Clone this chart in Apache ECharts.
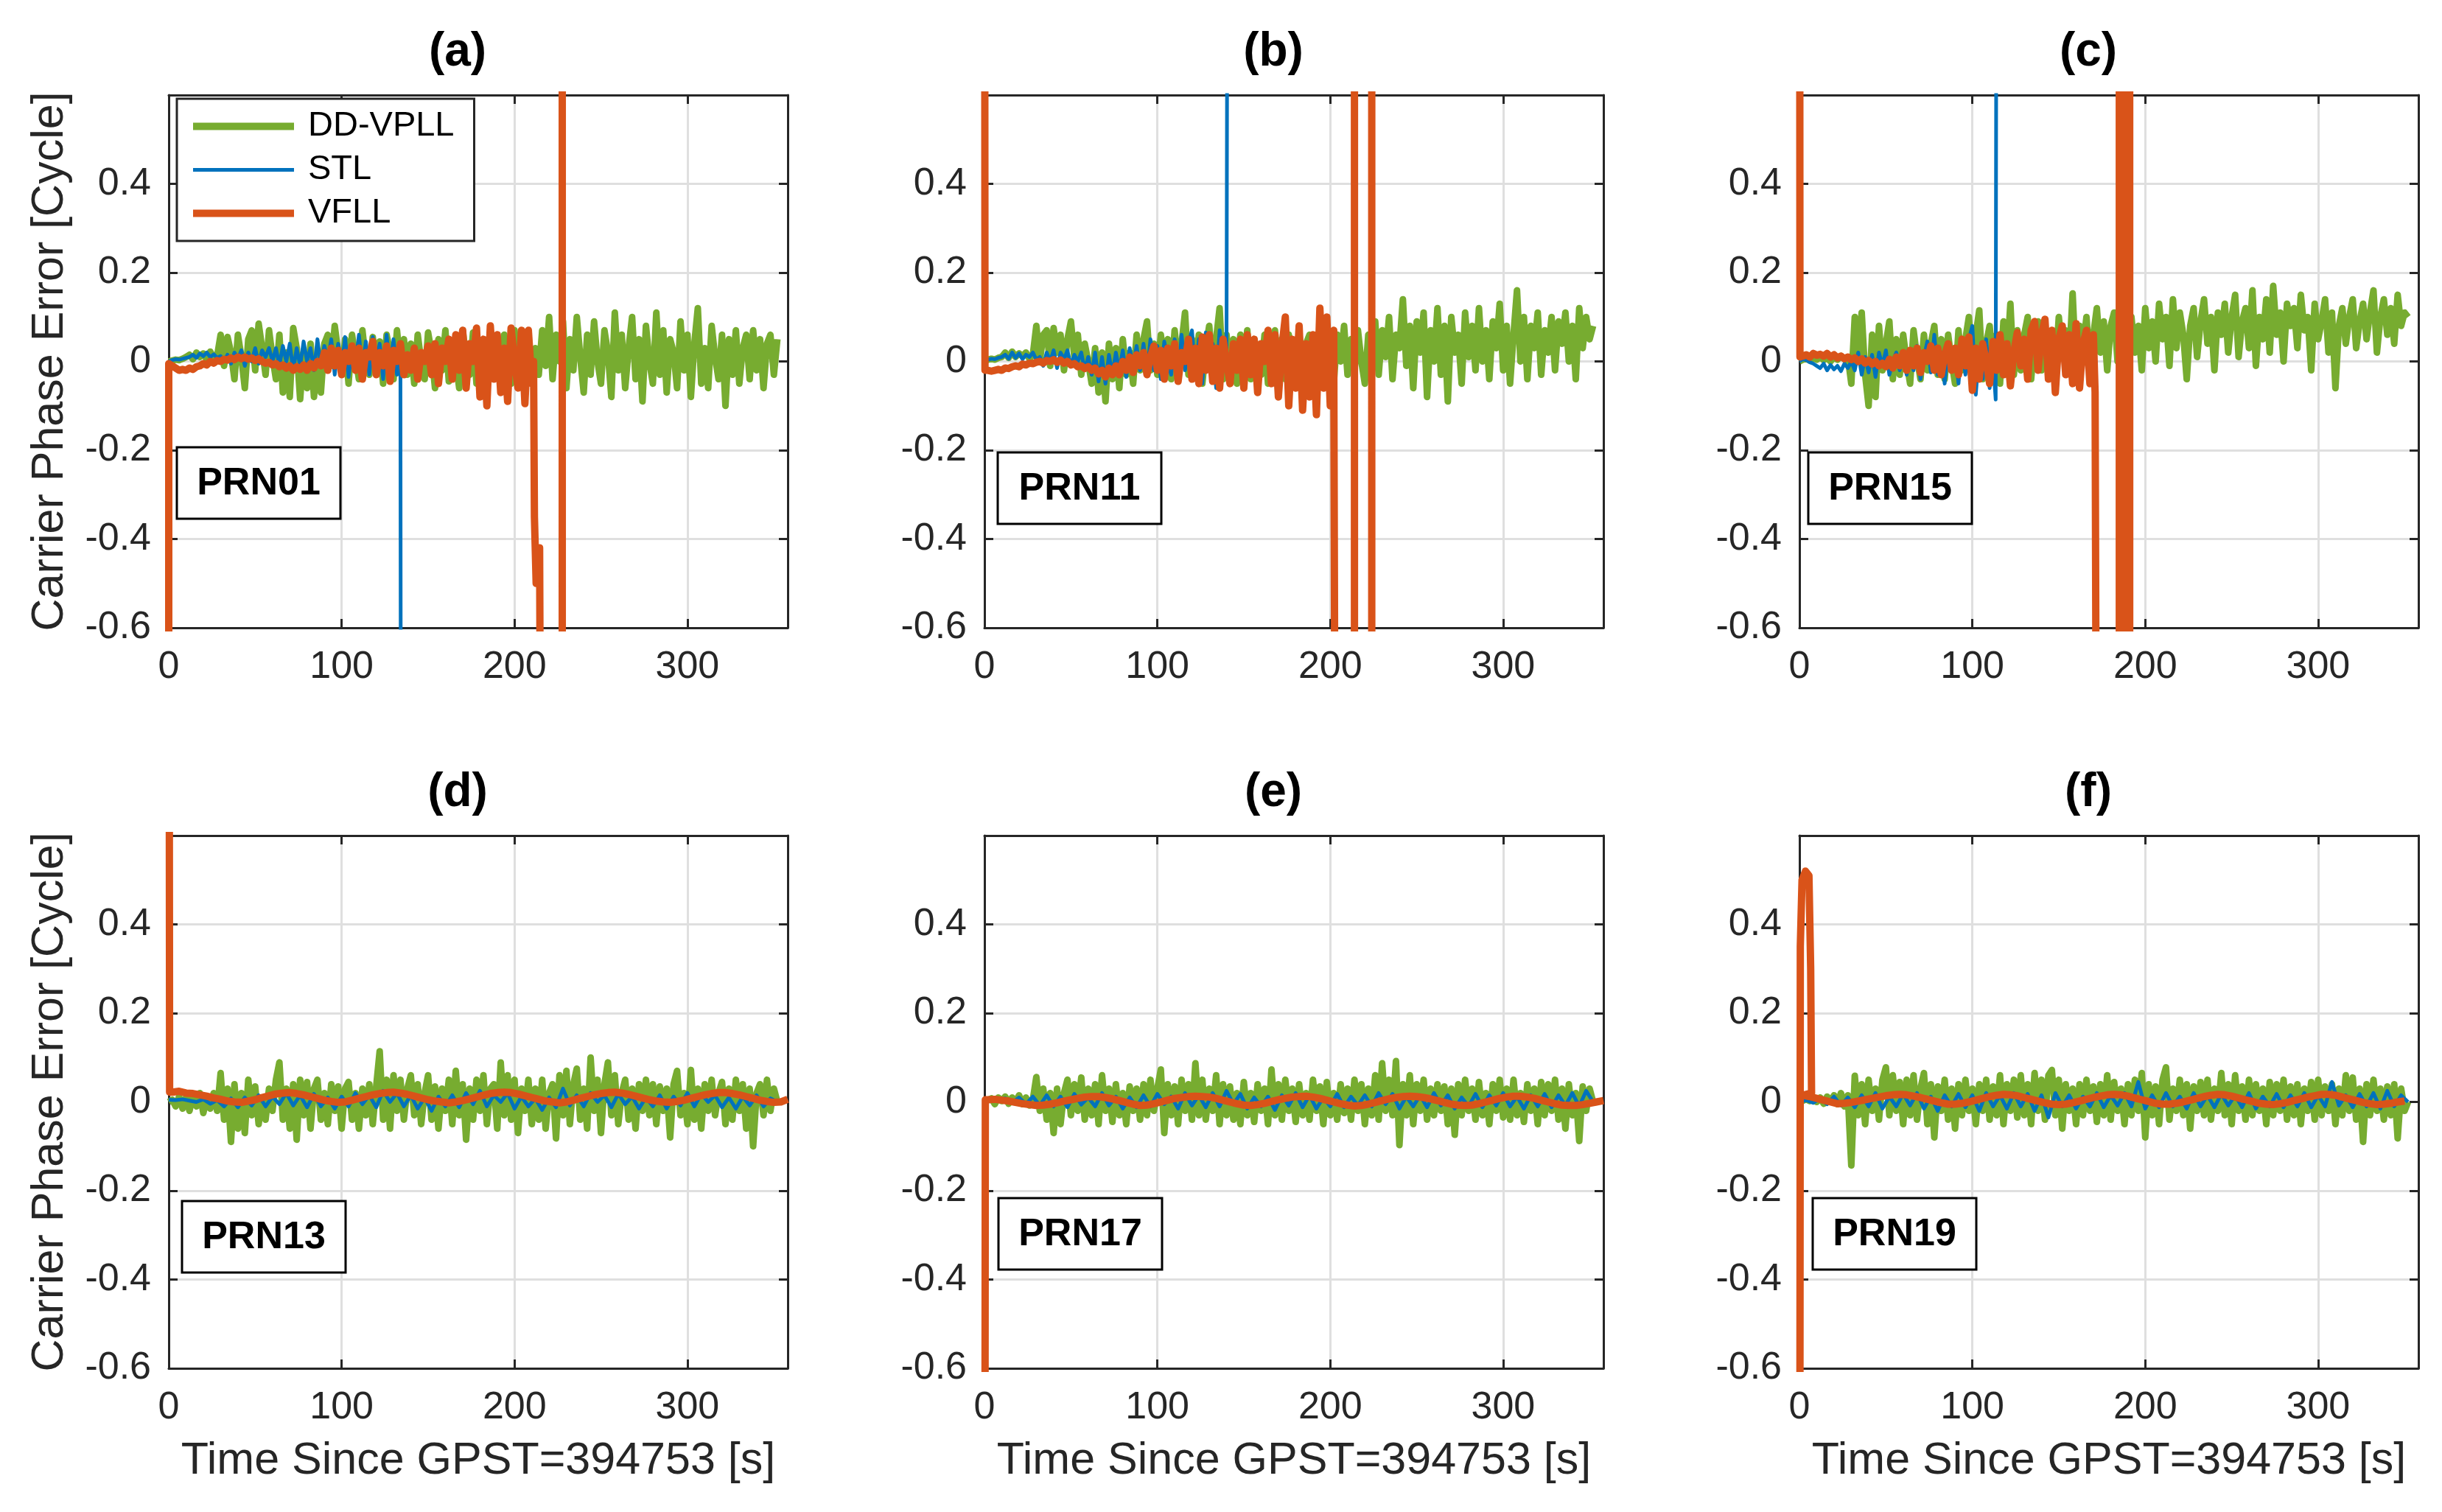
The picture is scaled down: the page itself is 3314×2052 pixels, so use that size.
<!DOCTYPE html>
<html>
<head>
<meta charset="utf-8">
<script src="https://cdn.jsdelivr.net/npm/echarts/dist/echarts.min.js"></script>
<style>
  html, body { margin: 0; padding: 0; background: #fff; }
  #chart { width: 3314px; height: 2052px; }
</style>
</head>
<body>
<div id="chart"></div>
<script>
// ---- data ----
// top row: samples every 2 s from t = 0 (green, blue) or t = 2 (orange)
const ddA = [0, 0.002, 0.004, 0.003, 0.006, 0.01,
  0.015, 0.005, 0.02, 0.01, 0.018, 0.004, 0.022, 0.008, 0.012,
  0.06, -0.01, 0.055, 0.02, -0.04, 0.06, 0.01, -0.06, 0.05, 0.07, -0.02, 0.085, 0.03, -0.03, 0.07, 0.01,
  -0.04, 0.06, -0.07, 0.02, -0.08, 0.075, 0.03, -0.085, 0.02, -0.06, 0.04, -0.08, 0.01, -0.07, 0.04,
  0.06, -0.01, 0.08, 0.02, -0.03, 0.05, -0.05, 0.06, 0.01, -0.04, 0.07, 0.0, -0.03, 0.055, -0.02, 0.045, -0.05, 0.06, 0.02, -0.04, 0.07, -0.01, 0.05, -0.03, 0.04,
  -0.05, 0.06, 0.0, -0.04, 0.065, 0.02, -0.06, 0.05, -0.02, 0.07, -0.045, 0.04, 0.0, -0.06, 0.07, 0.01, -0.03, 0.065, -0.05, 0.04, 0.02, -0.06, 0.07, -0.02, 0.05, -0.04, 0.06, 0.0, -0.05, 0.07, -0.03, 0.05, -0.02, 0.06, -0.04,
  0.03, -0.03, 0.07, -0.01, 0.1, -0.04, 0.06, 0.0, 0.09, -0.06, 0.05, -0.02, 0.1, 0.01, -0.07, 0.06, -0.03, 0.09, 0.0, -0.05, 0.07, 0.02, -0.08, 0.11, -0.02, 0.06, -0.06, 0.03, 0.1, -0.04, 0.05, -0.09, 0.08, 0.0, -0.05, 0.11, -0.03, 0.07, -0.07, 0.05, 0.02, -0.06, 0.09, -0.02, 0.06, -0.08, 0.04, 0.12, -0.05, 0.03, -0.06, 0.08, 0.01, -0.04, 0.06, -0.1, 0.05, -0.03, 0.07, -0.05, 0.03, 0.06, -0.04, 0.07, -0.02, 0.05, -0.06, 0.04, 0.06, -0.03, 0.05];
const stlA = [0, 0.003, 0.005, 0.004, 0.006, 0.008,
  0.01, 0.015, 0.008, 0.018, 0.012, 0.02, 0.01, 0.016, 0.008, 0.012,
  0.0, 0.015, -0.005, 0.02, 0.005, 0.025, -0.01, 0.02, 0.0, 0.03, -0.005, 0.025, 0.01, 0.03, 0.0,
  0.03, -0.01, 0.035, 0.0, 0.04, -0.02, 0.03, -0.01, 0.045, 0.0, 0.03, -0.02, 0.05, -0.01, 0.035,
  0.0, 0.05, -0.03, 0.04, -0.02, 0.055, -0.035, 0.03, -0.01, 0.06, -0.02, 0.045, -0.03, 0.055, 0.0, 0.04, -0.04, 0.06, -0.02, 0.05, -0.03, 0.0];
const stlATail = [[134.5, -2]];
const vfllAHead = [[0, -2], [0, -0.005]];
const vfllA = [-0.01, -0.015, -0.02, -0.018, -0.02, -0.015, -0.018, -0.012, -0.01, -0.005, -0.008, 0.0, -0.004, 0.002,
  0.0, 0.005, 0.003, 0.008, 0.004, 0.01, 0.006, 0.01, 0.005, 0.008, 0.002, 0.006, 0.0, -0.004, -0.002, -0.008,
  -0.005, -0.012, -0.008, -0.015, -0.01, -0.02, -0.012, -0.018, -0.008, -0.02, -0.005, -0.015, 0.0, -0.01, 0.02,
  -0.02, 0.03, -0.01, 0.025, -0.03, 0.02, 0.0, 0.035, -0.02, 0.03, -0.04, 0.02, 0.01, 0.045, -0.03, 0.02, -0.01, 0.035, -0.045, 0.025, 0.0, 0.04, -0.03, 0.015, -0.02, 0.03, -0.04, 0.02, 0.0, 0.035,
  -0.03, 0.04, -0.05, 0.03, 0.0, 0.05, -0.04, 0.06, -0.02, 0.07, -0.06, 0.04, 0.0, 0.075, -0.08, 0.05, -0.1, 0.08, -0.04, 0.06, -0.07, 0.03, -0.09, 0.075, 0.0, -0.06, 0.07, -0.095, 0.07, -0.05];
const vfllATail = [[211, 0.0], [211.5, -0.35], [212.5, -0.5], [214.5, -0.42], [216, -2], [227.6, -2], [227.6, 2]];

const ddB = [0, 0.004, 0.006, 0.004, 0.008, 0.01,
  0.02, 0.008, 0.022, 0.01, 0.018, 0.012, 0.02, 0.006, 0.015,
  0.08, 0.0, 0.06, 0.07, -0.01, 0.075, 0.02, 0.06, -0.02, 0.05, 0.09, 0.01, 0.06, -0.03, 0.04, 0.0,
  -0.05, 0.03, -0.07, 0.02, -0.09, 0.04, -0.04, 0.03, -0.06, 0.05, -0.03, 0.02, -0.05, 0.06, -0.02,
  0.05, 0.09, -0.02, 0.04, -0.03, 0.06, 0.0, 0.05, -0.04, 0.07, -0.01, 0.04, 0.11, -0.03, 0.05, -0.02, 0.06, -0.05, 0.03, 0.08, -0.02, 0.05, 0.12, -0.04, 0.06,
  -0.02, 0.05, -0.05, 0.06, 0.0, 0.07, -0.04, 0.05, 0.02, -0.03, 0.06, -0.05, 0.04, 0.07, -0.02, 0.05, -0.04, 0.06, 0.01, -0.03, 0.07, -0.05, 0.04, 0.06, -0.02, 0.05, 0.0, -0.04, 0.07, 0.02, -0.05, 0.06, 0.0, 0.08, -0.03,
  0.05, -0.02, 0.07, 0.0, -0.05, 0.06, 0.02, 0.09, -0.03, 0.07, 0.01, 0.1, -0.04, 0.06, 0.03, 0.14, -0.01, 0.08, -0.06, 0.09, 0.02, 0.11, -0.08, 0.07, 0.0, 0.12, -0.03, 0.08, -0.09, 0.1, 0.02, 0.06, -0.05, 0.11, 0.01, 0.08, -0.02, 0.12, 0.0, 0.07, -0.04, 0.09, 0.03, 0.13, -0.02, 0.08, -0.05, 0.06, 0.16, 0.0, 0.1, -0.04, 0.08, 0.03, 0.11, -0.03, 0.07, 0.02, 0.1, -0.02, 0.09, 0.04, 0.11, 0.0, 0.08, -0.04, 0.12, 0.03, 0.1, 0.05, 0.08];
const stlB = [0, 0.004, 0.006, 0.005, 0.008, 0.01,
  0.015, 0.006, 0.02, 0.008, 0.018, 0.005, 0.015, 0.01, 0.02, 0.004,
  0.01, -0.01, 0.02, 0.0, 0.025, -0.015, 0.02, 0.005, 0.025, -0.01, 0.015, 0.0, 0.02, -0.02, 0.01,
  -0.03, 0.02, -0.045, 0.01, -0.05, 0.015, -0.03, 0.02, -0.02, 0.025, -0.035, 0.03, -0.01, 0.035, -0.02,
  0.04, -0.03, 0.05, -0.02, 0.035, -0.04, 0.045, 0.0, -0.03, 0.05, -0.045, 0.06, -0.02, 0.04, 0.07, -0.03, 0.05, -0.05, 0.065, -0.02, 0.04, -0.06, 0.07, 0.0, 0.03];
const stlBTail = [[141, 2]];
const vfllBHead = [[0, 2], [0.3, -0.02]];
const vfllB = [-0.02, -0.022, -0.02, -0.018, -0.02, -0.015, -0.016, -0.012, -0.01, -0.012, -0.006, -0.008, -0.004, -0.005,
  -0.002, 0.0, -0.004, 0.002, 0.0, 0.004, -0.002, 0.003, -0.004, 0.0, -0.008, -0.005, -0.012, -0.01, -0.016, -0.012,
  -0.02, -0.015, -0.028, -0.02, -0.035, -0.015, -0.03, -0.01, -0.03, 0.0, -0.02, 0.01, -0.025, 0.015, -0.01,
  0.02, -0.03, 0.01, 0.035, -0.02, 0.025, -0.04, 0.03, -0.01, 0.04, -0.045, 0.02, 0.0, 0.05, -0.04, 0.03, -0.05, 0.055, -0.02, 0.06, -0.045, 0.03, -0.06, 0.05, 0.0, -0.05, 0.04, -0.02, 0.05, -0.06,
  0.06, -0.03, 0.05, -0.07, 0.04, 0.0, 0.07, -0.05, 0.06, -0.08, 0.03, 0.1, -0.1, 0.05, -0.06, 0.08, -0.11, 0.04, -0.08, 0.06, -0.12, 0.12, -0.06, 0.1, -0.1, 0.07];
const vfllBTail = [[203.5, -2], [214, -2], [214, 2], [214, -2], [224, -2], [224, 2]];

const ddC = [0, 0.004, 0.006, 0.002, 0.008, 0.004, 0.01, 0.003, 0.008, 0.0, 0.01, 0.004, 0.012, 0.005, 0.01,
  -0.05, 0.1, 0.02, 0.11, -0.03, -0.1, 0.06, -0.08, 0.08, -0.02, 0.04, 0.09, -0.04, 0.05, -0.03, 0.06,
  0.0, -0.05, 0.07, 0.01, -0.04, 0.06, -0.02, 0.04, 0.08, -0.03, 0.05, -0.04, 0.06, 0.0, -0.05,
  0.07, -0.02, 0.05, 0.1, -0.03, 0.06, 0.115, -0.04, 0.04, 0.08, -0.01, 0.06, -0.05, 0.09, 0.0, 0.13, -0.03, 0.07, -0.02, 0.06, 0.1, -0.04, 0.05, 0.09, -0.02,
  0.08, 0.0, 0.06, -0.03, 0.1, 0.02, 0.07, 0.0, 0.153, -0.02, 0.08, 0.03, 0.1, -0.01, 0.06, 0.12, 0.02, 0.09, -0.02, 0.08, 0.11, 0.0, 0.07, 0.12, -0.05,
  0.1, 0.02, 0.08, -0.02, 0.12, 0.03, 0.09, 0.0, 0.13, 0.05, 0.1, -0.01, 0.14, 0.03, 0.11, 0.06, -0.04, 0.08, 0.12, 0.01, 0.09, 0.14, 0.04, 0.1, -0.02, 0.11, 0.06, 0.13, 0.02, 0.1, 0.15, 0.01, 0.09, 0.12, 0.03, 0.16, -0.01, 0.1, 0.05, 0.14, 0.02, 0.17, 0.06, 0.11, 0.0, 0.13, 0.08, 0.12, 0.03, 0.15, 0.07, 0.1, -0.02, 0.13, 0.05, 0.09, 0.14, 0.02, 0.11, -0.06, 0.08, 0.12, 0.04, 0.1, 0.14, 0.03, 0.09, 0.13, 0.05, 0.11, 0.16, 0.02, 0.1, 0.14, 0.06, 0.12, 0.04, 0.15, 0.08, 0.11, 0.1];
const stlC = [0, 0.005, 0.003, -0.002, -0.005, -0.01,
  -0.015, -0.005, -0.02, -0.008, -0.018, -0.01, -0.022, -0.005, -0.015, 0.0,
  -0.02, 0.02, -0.03, 0.01, -0.025, 0.015, -0.035, 0.02, -0.01, 0.025, -0.03, 0.0, 0.02, -0.02, 0.015,
  -0.03, 0.025, -0.02, 0.035, -0.04, 0.01, 0.045, -0.025, 0.06, -0.03, 0.02, -0.05, 0.04, -0.02, 0.03,
  -0.05, 0.04, -0.03, 0.05, 0.08, -0.075, 0.03, -0.04, 0.05, -0.06, 0.0];
const stlCTail = [[113.5, -0.086], [114.3, 2]];
const vfllCHead = [[0, 2], [0.3, 0.01]];
const vfllC = [0.012, 0.015, 0.01, 0.018, 0.014, 0.016, 0.012, 0.018, 0.01, 0.015, 0.008, 0.012, 0.006, 0.01,
  0.004, 0.008, 0.0, 0.006, -0.004, 0.002, -0.006, 0.0, -0.01, -0.004, -0.012, 0.005, -0.015, 0.01, -0.01, 0.02,
  -0.02, 0.025, -0.01, 0.03, -0.025, 0.02, 0.0, 0.035, -0.02, 0.03, -0.03, 0.015, 0.04, -0.02, 0.03,
  -0.03, 0.05, -0.01, 0.055, -0.065, 0.03, -0.04, 0.04, 0.0, -0.05, 0.045, -0.02, 0.06, -0.03, 0.04, -0.055, 0.02, 0.065, -0.01, 0.05,
  -0.04, 0.07, 0.09, -0.02, 0.06, 0.095, -0.04, 0.07, -0.07, 0.05, 0.08, -0.03, 0.06, -0.05, 0.085, -0.06, 0.04, 0.07, -0.05, 0.06];
const vfllCTail = [[171, -0.07], [172.5, -2], [185, -2], [185, 2], [186.5, 2], [186.5, -2], [188, -2], [188, 2], [189.5, 2], [189.5, -2], [191, -2], [191, 2]];

// bottom row: green every 2 s, blue every 4 s from 0, orange every 4 s from 2
const ddD = [0, 0.005, -0.01, 0.012, -0.015, 0.01, -0.02, 0.015, -0.01, 0.02, -0.025, 0.01, -0.015, 0.02, -0.02,
  0.065, -0.04, 0.03, -0.09, 0.04, -0.06, 0.02, -0.07, 0.05, -0.03, 0.035, -0.05, 0.01, -0.04, 0.03, -0.02,
  0.05, 0.089, -0.04, 0.03, -0.06, 0.04, -0.085, 0.05, -0.03, 0.045, -0.06, 0.03, 0.05, -0.04, 0.02,
  -0.05, 0.04, -0.02, 0.035, -0.06, 0.03, 0.045, -0.04, 0.02, -0.06, 0.03, -0.03, 0.04, -0.05, 0.035, 0.114, -0.04, 0.05, -0.06, 0.06, -0.02, 0.05, -0.04, 0.03, 0.06,
  -0.03, 0.04, -0.05, 0.02, 0.06, -0.04, 0.035, -0.06, 0.03, -0.02, 0.05, -0.05, 0.07, -0.03, 0.04, -0.085, 0.03, -0.04, 0.05, -0.02, 0.06, -0.05, 0.03, 0.04, -0.06, 0.089, -0.03, 0.06, -0.04, 0.05, -0.07, 0.03, -0.02, 0.05, -0.05,
  0.03, -0.04, 0.05, -0.06, 0.02, 0.04, -0.082, 0.06, -0.03, 0.07, -0.05, 0.04, 0.075, -0.04, 0.03, -0.06, 0.1, -0.02, 0.05, -0.07, 0.04, 0.089, -0.03, 0.06, -0.05, 0.02, 0.05, -0.04, 0.03, -0.06, 0.04, -0.02, 0.05, -0.03, 0.04, -0.05, 0.035, -0.02, 0.03, -0.08, 0.04, 0.07, -0.03, 0.02, -0.05, 0.072, -0.04, 0.03, -0.06, 0.04, -0.02, 0.05, -0.03, 0.02, 0.045, -0.05, 0.03, -0.04, 0.05, -0.02, 0.04, -0.06, 0.03, -0.1, 0.02, 0.04, -0.03, 0.05, -0.02, 0.03, 0.0];
const stlD = [0.005, 0.004, 0.006, 0.003, 0.0, 0.006, -0.004, 0.004,
  -0.01, 0.008, -0.012, 0.01, -0.008, 0.015, -0.01, 0.012,
  -0.005, 0.02, -0.008, 0.015, -0.012, 0.018, -0.01, 0.01,
  -0.015, 0.012, -0.01, 0.02, -0.005, 0.015, -0.012, 0.025,
  0.0, 0.02, -0.01, 0.015, -0.015, 0.01, -0.02, 0.012,
  -0.01, 0.015, -0.012, 0.02, -0.005, 0.025, -0.01, 0.015,
  0.0, 0.02, -0.015, 0.012, -0.01, 0.008, -0.018, 0.01,
  -0.012, 0.03, -0.008, 0.015, -0.01, 0.02, 0.0, 0.015,
  -0.012, 0.018, -0.005, 0.012, -0.015, 0.01, -0.01, 0.015,
  -0.015, 0.012, -0.008, 0.02, -0.01, 0.018, 0.0, 0.015,
  -0.012, 0.01, -0.015, 0.012, -0.008, 0.015, -0.01, 0.008, 0.0];
const vfllDHead = [[0, 2], [0.5, 0.022]];
const vfllD = [0.022, 0.024, 0.02, 0.019, 0.016, 0.013, 0.009, 0.006, 0.002, 0.0, -0.001, 0.002, 0.005, 0.01, 0.014, 0.018,
  0.02, 0.021, 0.019, 0.016, 0.012, 0.008, 0.004, 0.001, -0.001, 0.0, 0.004, 0.008, 0.012, 0.016, 0.019, 0.021,
  0.022, 0.02, 0.017, 0.013, 0.009, 0.005, 0.002, 0.0, -0.002, 0.0, 0.003, 0.007, 0.011, 0.015, 0.019, 0.021,
  0.022, 0.021, 0.018, 0.014, 0.01, 0.006, 0.002, 0.0, -0.002, 0.0, 0.004, 0.008, 0.012, 0.016, 0.019, 0.021,
  0.022, 0.02, 0.017, 0.013, 0.009, 0.005, 0.002, 0.0, -0.001, 0.001, 0.004, 0.008, 0.012, 0.016, 0.019, 0.021,
  0.021, 0.019, 0.016, 0.012, 0.008, 0.004, 0.001, -0.001, 0.0, 0.006];

const ddE = [0, 0.004, 0.008, -0.005, 0.01, 0.002, 0.012, -0.004, 0.01, 0.0, 0.015, -0.005, 0.01, -0.008, 0.005,
  0.056, -0.02, 0.03, -0.04, 0.02, -0.07, 0.03, -0.05, 0.02, 0.05, -0.03, 0.04, -0.02, 0.055, -0.04, 0.03,
  -0.03, 0.04, -0.05, 0.06, -0.02, 0.03, -0.045, 0.04, -0.03, 0.02, -0.05, 0.035, -0.02, 0.03, -0.04,
  0.04, -0.03, 0.05, -0.02, 0.03, 0.073, -0.07, 0.04, -0.03, 0.035, -0.05, 0.05, -0.02, 0.04, -0.04, 0.087, -0.03, 0.05, -0.04, 0.03, -0.02, 0.06, -0.05, 0.04, -0.03,
  0.035, -0.04, 0.02, -0.05, 0.045, -0.03, 0.02, -0.045, 0.04, -0.02, 0.03, -0.05, 0.073, -0.03, 0.04, -0.04, 0.05, -0.02, 0.03, -0.045, 0.04, -0.03, 0.02, -0.04, 0.05, -0.02, 0.035, -0.05, 0.045, -0.03, 0.02, -0.04, 0.04, -0.025, 0.03,
  -0.04, 0.05, -0.02, 0.04, -0.05, 0.03, -0.03, 0.06, -0.04, 0.087, -0.02, 0.05, -0.03, 0.092, -0.097, 0.04, -0.03, 0.06, -0.05, 0.04, -0.02, 0.05, -0.04, 0.03, -0.03, 0.04, -0.02, 0.035, -0.05, 0.03, -0.074, 0.04, -0.03, 0.05, -0.02, 0.03, -0.04, 0.045, -0.03, 0.02, -0.05, 0.04, -0.02, 0.05, -0.035, 0.03, -0.04, 0.05, -0.03, 0.02, -0.045, 0.04, -0.02, 0.03, -0.05, 0.045, -0.03, 0.04, -0.02, 0.05, -0.04, 0.03, -0.06, 0.04, -0.03, 0.02, -0.088, 0.035, -0.02, 0.03, 0.0];
const stlE = [0.004, 0.006, 0.002, 0.008, -0.002, 0.01, -0.005, 0.012,
  -0.008, 0.015, -0.01, 0.012, -0.012, 0.018, -0.006, 0.01,
  -0.01, 0.02, -0.008, 0.012, -0.015, 0.01, -0.012, 0.015,
  -0.01, 0.018, -0.005, 0.012, -0.015, 0.02, -0.008, 0.015,
  -0.012, 0.02, -0.01, 0.025, -0.005, 0.018, -0.015, 0.01,
  -0.01, 0.012, -0.018, 0.015, -0.008, 0.02, -0.012, 0.015,
  -0.015, 0.01, -0.01, 0.018, -0.012, 0.012, -0.008, 0.015,
  -0.01, 0.02, -0.005, 0.018, -0.015, 0.012, -0.01, 0.015,
  -0.012, 0.02, -0.008, 0.015, -0.015, 0.01, -0.01, 0.018,
  -0.012, 0.015, -0.008, 0.02, -0.01, 0.012, -0.015, 0.015,
  -0.01, 0.018, -0.012, 0.015, -0.008, 0.02, -0.01, 0.025, 0.0];
const vfllEHead = [[0, -2], [0.5, 0.005]];
const vfllE = [0.005, 0.006, 0.004, 0.002, -0.001, -0.004, -0.006, -0.008, -0.007, -0.005, -0.002, 0.002, 0.005, 0.008, 0.011, 0.012,
  0.012, 0.01, 0.007, 0.003, -0.001, -0.005, -0.008, -0.007, -0.004, 0.0, 0.004, 0.008, 0.01, 0.012, 0.013, 0.012,
  0.011, 0.008, 0.004, 0.0, -0.004, -0.007, -0.008, -0.006, -0.003, 0.001, 0.005, 0.008, 0.011, 0.012, 0.013, 0.011,
  0.008, 0.004, 0.0, -0.004, -0.007, -0.009, -0.008, -0.005, -0.001, 0.003, 0.007, 0.01, 0.012, 0.013, 0.012, 0.01,
  0.007, 0.003, -0.001, -0.005, -0.007, -0.008, -0.007, -0.004, 0.0, 0.004, 0.008, 0.011, 0.013, 0.013, 0.011, 0.008,
  0.004, 0.0, -0.004, -0.007, -0.008, -0.008, -0.006, -0.003, 0.0, 0.003];

const ddF = [0, 0.003, 0.006, 0.002, 0.008, 0.0, 0.01, -0.004, 0.012, 0.002, 0.015, -0.005, 0.02, -0.01, 0.015,
  -0.143, 0.059, -0.03, 0.04, -0.05, 0.05, -0.02, 0.03, -0.04, 0.05, 0.078, -0.03, 0.06, -0.02, 0.045, -0.05,
  0.05, -0.03, 0.06, -0.04, 0.03, 0.065, -0.05, 0.04, -0.08, 0.035, -0.02, 0.05, -0.04, 0.03, -0.06,
  0.04, -0.03, 0.05, -0.02, 0.03, -0.05, 0.04, -0.02, 0.05, -0.04, 0.035, -0.03, 0.06, -0.05, 0.04, -0.02, 0.05, -0.035, 0.06, -0.03, 0.04, -0.05, 0.065, -0.02, 0.05,
  -0.04, 0.06, 0.072, -0.03, 0.05, -0.06, 0.04, -0.02, 0.03, -0.05, 0.04, -0.03, 0.05, -0.02, 0.035, -0.045, 0.04, -0.03, 0.06, -0.04, 0.045, -0.02, 0.03, -0.05, 0.04, -0.03, 0.05, -0.02, 0.065, -0.08, 0.04, -0.03, 0.035, -0.05, 0.05,
  0.078, -0.04, 0.03, -0.02, 0.05, -0.03, 0.04, -0.06, 0.035, -0.02, 0.045, -0.03, 0.05, -0.04, 0.03, -0.02, 0.065, -0.03, 0.04, -0.05, 0.06, -0.02, 0.035, -0.04, 0.05, -0.03, 0.04, -0.02, 0.03, -0.05, 0.045, -0.03, 0.04, -0.02, 0.05, -0.04, 0.035, -0.03, 0.04, -0.05, 0.03, -0.02, 0.045, -0.04, 0.05, -0.03, 0.035, -0.02, 0.04, -0.05, 0.03, -0.03, 0.06, -0.02, 0.055, -0.04, 0.03, -0.09, 0.04, -0.03, 0.05, -0.02, 0.03, -0.04, 0.035, -0.03, 0.04, -0.082, 0.03, -0.02, 0.0];
const stlF = [0.0, 0.004, -0.002, 0.008, -0.005, 0.012, -0.008, 0.01,
  -0.012, 0.015, -0.01, 0.02, -0.015, 0.012, -0.01, 0.018,
  -0.008, 0.02, -0.015, 0.012, -0.02, 0.015, -0.01, 0.018,
  -0.012, 0.015, -0.02, 0.02, -0.01, 0.015, -0.015, 0.02,
  -0.01, 0.018, -0.02, 0.015, -0.035, 0.02, -0.01, 0.015,
  -0.015, 0.012, -0.01, 0.02, -0.012, 0.015, -0.008, 0.02,
  -0.01, 0.045, -0.015, 0.015, -0.012, 0.02, -0.01, 0.012,
  -0.015, 0.02, -0.01, 0.015, -0.012, 0.018, -0.008, 0.015,
  -0.012, 0.02, -0.015, 0.012, -0.01, 0.018, -0.012, 0.015,
  -0.01, 0.02, -0.012, 0.015, -0.01, 0.045, -0.008, 0.015,
  -0.012, 0.018, -0.01, 0.02, -0.015, 0.025, -0.01, 0.015, 0.0];
const vfllFHead = [[0, -2], [0.5, 0.35], [1.5, 0.5], [3.5, 0.52], [5.5, 0.51], [6.5, 0.3], [7, 0.02]];
const vfllF = [0.015, 0.012, 0.008, 0.004, 0.0, -0.004, -0.003, -0.001, 0.002, 0.005, 0.008, 0.011, 0.014, 0.016, 0.017,
  0.016, 0.013, 0.01, 0.006, 0.002, -0.002, -0.005, -0.005, -0.003, 0.0, 0.004, 0.008, 0.012, 0.015, 0.017,
  0.016, 0.014, 0.01, 0.006, 0.002, -0.002, -0.005, -0.006, -0.005, -0.002, 0.002, 0.006, 0.01, 0.013, 0.016,
  0.017, 0.016, 0.013, 0.009, 0.005, 0.001, -0.003, -0.005, -0.005, -0.003, 0.0, 0.004, 0.008, 0.012, 0.015,
  0.017, 0.016, 0.013, 0.009, 0.005, 0.001, -0.003, -0.005, -0.006, -0.004, -0.001, 0.003, 0.007, 0.011, 0.014,
  0.017, 0.017, 0.015, 0.011, 0.007, 0.003, -0.001, -0.004, -0.006, -0.005, -0.003, 0.0, 0.002];

const panelTitles = ['(a)', '(b)', '(c)', '(d)', '(e)', '(f)'];
const prnLabels = ['PRN01', 'PRN11', 'PRN15', 'PRN13', 'PRN17', 'PRN19'];
const seriesNames = ['DD-VPLL', 'STL', 'VFLL'];
const xTicks = [0, 100, 200, 300];
const yTicks = [-0.6, -0.4, -0.2, 0, 0.2, 0.4];

// ---- layout / style ----
const FONT = "'Liberation Sans', Arial, Helvetica, sans-serif";
const GREEN = '#77AC30', BLUE = '#0072BD', ORANGE = '#D95319';
const AXIS = '#262626';
const LEFTS = [229, 1336, 2442];
const TOPS = [129, 1134];
const PW = 840, PH = 723;
const PRN_POS = [[240, 607], [1354, 614], [2454, 614], [247, 1630], [1355, 1626], [2460, 1626]];

function pts(values, t0, dt) {
  return values.map((v, i) => [t0 + i * dt, v]);
}

const panels = [
  { dd: pts(ddA, 0, 2), stl: pts(stlA, 0, 2).concat(stlATail), vfll: vfllAHead.concat(pts(vfllA, 2, 2), vfllATail) },
  { dd: pts(ddB, 0, 2), stl: pts(stlB, 0, 2).concat(stlBTail), vfll: vfllBHead.concat(pts(vfllB, 2, 2), vfllBTail) },
  { dd: pts(ddC, 0, 2), stl: pts(stlC, 0, 2).concat(stlCTail), vfll: vfllCHead.concat(pts(vfllC, 2, 2), vfllCTail) },
  { dd: pts(ddD, 0, 2), stl: pts(stlD, 0, 4), vfll: vfllDHead.concat(pts(vfllD, 2, 4)) },
  { dd: pts(ddE, 0, 2), stl: pts(stlE, 0, 4), vfll: vfllEHead.concat(pts(vfllE, 2, 4)) },
  { dd: pts(ddF, 0, 2), stl: pts(stlF, 0, 4), vfll: vfllFHead.concat(pts(vfllF, 2, 4)) }
];

const grids = [], xAxes = [], yAxes = [], series = [], graphics = [];

panels.forEach((p, i) => {
  const col = i % 3, row = Math.floor(i / 3);
  const left = LEFTS[col], top = TOPS[row];
  grids.push({ left: left, top: top, width: PW, height: PH, outerBoundsMode: 'none' });

  const lineStyle = { color: AXIS, width: 3 };
  const tick = { show: true, inside: true, length: 12, lineStyle: { color: AXIS, width: 3 } };
  xAxes.push({
    type: 'value', gridIndex: i, min: 0, max: 358, interval: 100,
    axisLine: { show: true, onZero: false, lineStyle: lineStyle },
    axisTick: tick,
    axisLabel: {
      show: true, margin: 28, fontSize: 52, color: AXIS, fontFamily: FONT, showMaxLabel: false,
      formatter: v => (xTicks.indexOf(v) >= 0 ? String(v) : '')
    },
    splitLine: { show: true, showMinLine: false, showMaxLine: false, lineStyle: { color: '#dfdfdf', width: 3 } },
    name: row === 1 ? 'Time Since GPST=394753 [s]' : '',
    nameLocation: 'middle', nameGap: 96,
    nameTextStyle: { fontSize: 61, color: AXIS, fontFamily: FONT }
  });
  xAxes.push({
    type: 'value', gridIndex: i, position: 'top', min: 0, max: 358, interval: 100,
    axisLine: { show: true, onZero: false, lineStyle: lineStyle },
    axisTick: tick, axisLabel: { show: false }, splitLine: { show: false }
  });
  yAxes.push({
    type: 'value', gridIndex: i, min: -0.6, max: 0.6, interval: 0.2,
    axisLine: { show: true, onZero: false, lineStyle: lineStyle },
    axisTick: tick,
    axisLabel: {
      show: true, margin: 24, fontSize: 52, color: AXIS, fontFamily: FONT,
      formatter: v => {
        const r = Math.round(v * 10) / 10;
        return yTicks.indexOf(r) >= 0 ? String(r === 0 ? 0 : r) : '';
      }
    },
    splitLine: { show: true, showMinLine: false, showMaxLine: false, lineStyle: { color: '#dfdfdf', width: 3 } },
    name: col === 0 ? 'Carrier Phase Error [Cycle]' : '',
    nameLocation: 'middle', nameGap: 130, nameRotate: 90,
    nameTextStyle: { fontSize: 61, color: AXIS, fontFamily: FONT }
  });
  yAxes.push({
    type: 'value', gridIndex: i, position: 'right', min: -0.6, max: 0.6, interval: 0.2,
    axisLine: { show: true, onZero: false, lineStyle: lineStyle },
    axisTick: tick, axisLabel: { show: false }, splitLine: { show: false }
  });

  const common = { type: 'line', xAxisIndex: 2 * i, yAxisIndex: 2 * i, showSymbol: false, symbol: 'none', silent: true, animation: false };
  series.push(Object.assign({}, common, { name: seriesNames[0], data: p.dd, itemStyle: { color: GREEN }, lineStyle: { color: GREEN, width: 9, join: 'round' } }));
  series.push(Object.assign({}, common, { name: seriesNames[1], data: p.stl, itemStyle: { color: BLUE }, lineStyle: { color: BLUE, width: 5, join: 'round' } }));
  series.push(Object.assign({}, common, { name: seriesNames[2], data: p.vfll, itemStyle: { color: ORANGE }, lineStyle: { color: ORANGE, width: 10, join: 'round' } }));

  // panel letter above each plot
  graphics.push({
    type: 'text', z: 100, x: left + PW / 2 - 28, y: top - 58,
    style: { text: panelTitles[i], fill: '#000', fontSize: 64, fontWeight: 'bold', fontFamily: FONT, align: 'center', verticalAlign: 'middle' }
  });
  // PRN box
  const bx = PRN_POS[i][0], by = PRN_POS[i][1];
  graphics.push({
    type: 'rect', z: 100, shape: { x: bx, y: by, width: 222, height: 97 },
    style: { fill: '#fff', stroke: '#000', lineWidth: 3 }
  });
  graphics.push({
    type: 'text', z: 101, x: bx + 111, y: by + 50,
    style: { text: prnLabels[i], fill: '#000', fontSize: 52, fontWeight: 'bold', fontFamily: FONT, align: 'center', verticalAlign: 'middle' }
  });
});

const chart = echarts.init(document.getElementById('chart'), null, { renderer: 'canvas' });
chart.setOption({
  backgroundColor: '#fff',
  animation: false,
  grid: grids,
  xAxis: xAxes,
  yAxis: yAxes,
  series: series,
  graphic: graphics,
  legend: {
    show: true, orient: 'vertical', left: 240, top: 134,
    padding: [14, 27, 14, 22], itemGap: 12, itemWidth: 137, itemHeight: 20,
    backgroundColor: '#fff', borderColor: AXIS, borderWidth: 3, borderRadius: 0,
    itemStyle: { borderWidth: 0 },
    textStyle: { fontSize: 47, color: '#000', fontFamily: FONT, lineHeight: 46, padding: [0, 0, 0, 14] },
    data: [
      { name: 'DD-VPLL', icon: 'path://M0,0M0,20M0,5L137,5L137,15L0,15Z', itemStyle: { color: GREEN } },
      { name: 'STL', icon: 'path://M0,0M0,20M0,7.5L137,7.5L137,12.5L0,12.5Z', itemStyle: { color: BLUE } },
      { name: 'VFLL', icon: 'path://M0,0M0,20M0,5L137,5L137,15L0,15Z', itemStyle: { color: ORANGE } }
    ]
  }
});
</script>
</body>
</html>
